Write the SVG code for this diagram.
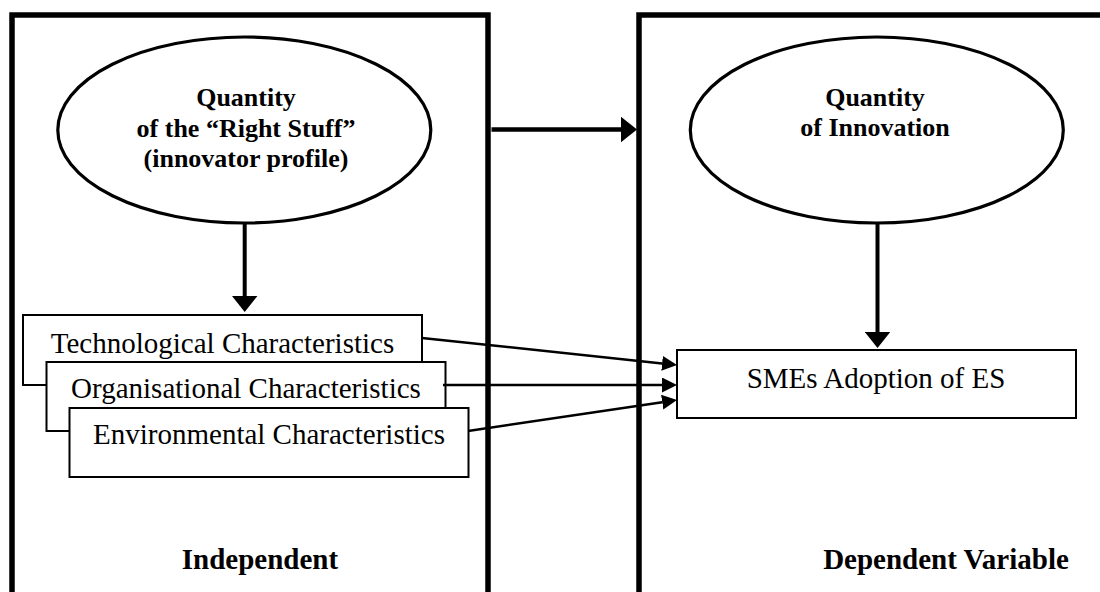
<svg xmlns="http://www.w3.org/2000/svg" width="1100" height="592" viewBox="0 0 1100 592">
<style>
.frame{fill:none;stroke:#000;stroke-width:5.5}
.ell{fill:#fff;stroke:#000;stroke-width:3.2}
.box{fill:#fff;stroke:#000;stroke-width:2}
.bt{font-family:"Liberation Serif","Times New Roman",serif;font-weight:bold;font-size:26px;text-anchor:middle;fill:#000}
.rt{font-family:"Liberation Serif","Times New Roman",serif;font-size:29px;text-anchor:middle;fill:#000}
.lab{font-family:"Liberation Serif","Times New Roman",serif;font-weight:bold;font-size:29px;text-anchor:middle;fill:#000}
.thick{stroke:#000;stroke-width:4.5;fill:none}
.vert{stroke:#000;stroke-width:4;fill:none}
.thin{stroke:#000;stroke-width:2.5;fill:none}
</style>
<defs>
<marker id="big" markerUnits="userSpaceOnUse" markerWidth="16" markerHeight="26" refX="0" refY="12.75" orient="auto" viewBox="0 0 16 25.5">
<path d="M0,0 L16,12.75 L0,25.5 z" fill="#000"/>
</marker>
<marker id="small" markerUnits="userSpaceOnUse" markerWidth="15" markerHeight="15" refX="0" refY="7.5" orient="auto" viewBox="0 0 15 15">
<path d="M0,0 L15,7.5 L0,15 z" fill="#000"/>
</marker>
</defs>
<rect width="1100" height="592" fill="#fff"/>
<g id="independent-panel">
<path class="frame" d="M12,600 V15 H488 V600"/>
<text class="lab" x="260" y="569">Independent</text>
</g>
<g id="dependent-panel">
<path class="frame" d="M639,600 V15 H1110"/>
<text class="lab" x="946" y="569">Dependent Variable</text>
</g>
<g id="right-stuff">
<ellipse class="ell" cx="244.3" cy="130" rx="186.5" ry="93"/>
<text class="bt" x="246" y="106">Quantity</text>
<text class="bt" x="246" y="137">of the “Right Stuff”</text>
<text class="bt" x="246" y="167">(innovator profile)</text>
</g>
<g id="quantity-innovation">
<ellipse class="ell" cx="876.8" cy="130" rx="186.5" ry="93"/>
<text class="bt" x="875" y="106">Quantity</text>
<text class="bt" x="875" y="136">of Innovation</text>
</g>
<g id="technological">
<rect class="box" x="23" y="315" width="399" height="70"/>
<text class="rt" x="222.5" y="353">Technological Characteristics</text>
</g>
<g id="organisational">
<rect class="box" x="46.5" y="362" width="399" height="69"/>
<text class="rt" x="246" y="398">Organisational Characteristics</text>
</g>
<g id="environmental">
<rect class="box" x="69.5" y="408" width="399" height="69"/>
<text class="rt" x="269" y="444">Environmental Characteristics</text>
</g>
<g id="smes-adoption">
<rect class="box" x="677" y="350" width="399" height="68"/>
<text class="rt" x="876" y="388">SMEs Adoption of ES</text>
</g>
<g id="connectors">
<line class="thick" x1="491.5" y1="129.5" x2="621" y2="129.5" marker-end="url(#big)"/>
<line class="vert" x1="244.7" y1="222" x2="244.7" y2="296" marker-end="url(#big)"/>
<line class="vert" x1="877.5" y1="222" x2="877.5" y2="332" marker-end="url(#big)"/>
<line class="thin" x1="422" y1="338" x2="662.1" y2="363.4" marker-end="url(#small)"/>
<line class="thin" x1="443" y1="385" x2="662" y2="385" marker-end="url(#small)"/>
<line class="thin" x1="468" y1="431" x2="662.2" y2="402.2" marker-end="url(#small)"/>
</g>
</svg>
